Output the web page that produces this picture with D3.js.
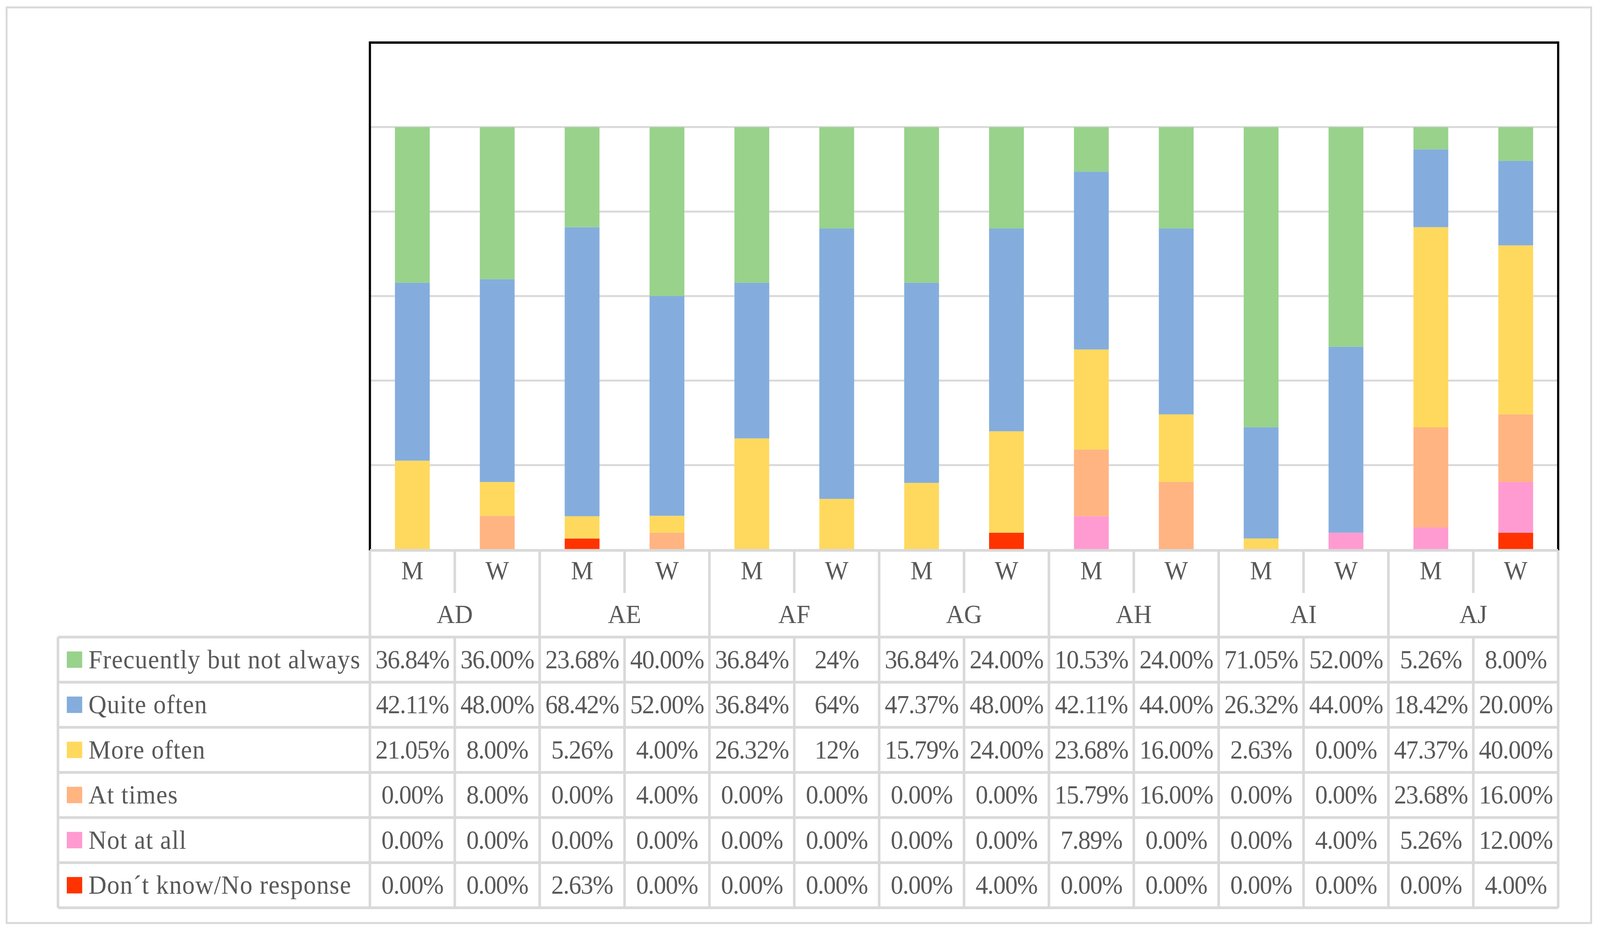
<!DOCTYPE html>
<html>
<head>
<meta charset="utf-8">
<script src="https://cdn.jsdelivr.net/npm/d3@7/dist/d3.min.js"></script>
<style>
  html, body { margin: 0; padding: 0; background: #ffffff; width: 100%; height: 100%; overflow: hidden; }
  svg { display: block; width: 100vw; height: 100vh; }
</style>
</head>
<body>
<svg id="chart" viewBox="0 0 4360 2386" preserveAspectRatio="none"></svg>
<script>
// ---------------- DATA ----------------
const groups = ["AD", "AE", "AF", "AG", "AH", "AI", "AJ"];
const genders = ["M", "W"];
const seriesNames = [
  "Frecuently but not always",
  "Quite often",
  "More often",
  "At times",
  "Not at all",
  "Don\u00b4t know/No response"
];
// table labels, one per column (AD-M, AD-W, AE-M, AE-W, ...)
const frequentlyLabels = ["36.84%","36.00%","23.68%","40.00%","36.84%","24%","36.84%","24.00%","10.53%","24.00%","71.05%","52.00%","5.26%","8.00%"];
const quiteOftenLabels = ["42.11%","48.00%","68.42%","52.00%","36.84%","64%","47.37%","48.00%","42.11%","44.00%","26.32%","44.00%","18.42%","20.00%"];
const moreOftenLabels  = ["21.05%","8.00%","5.26%","4.00%","26.32%","12%","15.79%","24.00%","23.68%","16.00%","2.63%","0.00%","47.37%","40.00%"];
const atTimesLabels    = ["0.00%","8.00%","0.00%","4.00%","0.00%","0.00%","0.00%","0.00%","15.79%","16.00%","0.00%","0.00%","23.68%","16.00%"];
const notAtAllLabels   = ["0.00%","0.00%","0.00%","0.00%","0.00%","0.00%","0.00%","0.00%","7.89%","0.00%","0.00%","4.00%","5.26%","12.00%"];
const dontKnowLabels   = ["0.00%","0.00%","2.63%","0.00%","0.00%","0.00%","0.00%","4.00%","0.00%","0.00%","0.00%","0.00%","0.00%","4.00%"];
const seriesColors = ["#98d28b", "#84addd", "#ffd95e", "#ffb482", "#ff9bd0", "#ff3300"];
const yTicks = [0.2, 0.4, 0.6, 0.8, 1.0];

// ---------------- BUILD ----------------
const labelRows = [frequentlyLabels, quiteOftenLabels, moreOftenLabels, atTimesLabels, notAtAllLabels, dontKnowLabels];
const columns = [];
groups.forEach(g => genders.forEach(s => columns.push({ key: g + "-" + s, group: g, gender: s })));
const rows = columns.map((c, i) => {
  const o = { key: c.key };
  seriesNames.forEach((n, si) => { o[n] = parseFloat(labelRows[si][i]) / 100; });
  return o;
});
const stackKeys = seriesNames.slice().reverse(); // bottom: Don't know ... top: Frequently
const colorOf = d3.scaleOrdinal().domain(seriesNames).range(seriesColors);
const stacked = d3.stack().keys(stackKeys)(rows);

const svg = d3.select("#chart");
const plotL = 1008, plotR = 4246, plotT = 109, plotB = 1407;
const tableL = 158;
const headBottom = 1631, rowH = 115.5;
const textColor = "#595959";
const gridColor = "#d9d9d9";
const font = "'Liberation Serif', 'Times New Roman', serif";
const fs = 68;

// outer frame
svg.append("rect").attr("x", 18).attr("y", 19).attr("width", 4336 - 18).attr("height", 2363 - 19)
  .attr("fill", "#fff").attr("stroke", gridColor).attr("stroke-width", 5);

const x = d3.scaleBand().domain(columns.map(c => c.key)).range([plotL, plotR])
  .paddingInner(0.59).paddingOuter(0.295);
const col = d3.scaleBand().domain(columns.map(c => c.key)).range([plotL, plotR]);
const grp = d3.scaleBand().domain(groups).range([plotL, plotR]);
const y = d3.scaleLinear().domain([0, 1.2]).range([plotB, plotT]);

// gridlines
svg.append("g").selectAll("line").data(yTicks).join("line")
  .attr("x1", plotL).attr("x2", plotR)
  .attr("y1", d => y(d)).attr("y2", d => y(d))
  .attr("stroke", gridColor).attr("stroke-width", 5);

// bars
svg.append("g").selectAll("g").data(stacked).join("g")
  .attr("fill", d => colorOf(d.key))
  .selectAll("rect").data(d => d).join("rect")
  .attr("x", d => x(d.data.key))
  .attr("width", x.bandwidth())
  .attr("y", d => y(d[1]))
  .attr("height", d => Math.max(0, y(d[0]) - y(d[1])));

// plot border (left, top, right)
svg.append("path")
  .attr("d", `M${plotL},${plotB + 2} L${plotL},${plotT} L${plotR},${plotT} L${plotR},${plotB + 2}`)
  .attr("fill", "none").attr("stroke", "#000").attr("stroke-width", 6);

// ---------------- TABLE ----------------
const tg = svg.append("g").attr("stroke", gridColor).attr("stroke-width", 7);
const tableB = headBottom + rowH * seriesNames.length;
tg.append("line").attr("x1", plotL).attr("x2", plotR).attr("y1", plotB + 2).attr("y2", plotB + 2);
d3.range(seriesNames.length + 1).forEach(i => {
  tg.append("line").attr("x1", tableL).attr("x2", plotR)
    .attr("y1", headBottom + i * rowH).attr("y2", headBottom + i * rowH);
});
tg.append("line").attr("x1", tableL).attr("x2", tableL).attr("y1", headBottom).attr("y2", tableB);
columns.forEach((c, i) => {
  const xx = col(c.key);
  if (i % 2 === 0) {
    tg.append("line").attr("x1", xx).attr("x2", xx).attr("y1", plotB + 2).attr("y2", tableB);
  } else {
    tg.append("line").attr("x1", xx).attr("x2", xx).attr("y1", plotB + 2).attr("y2", 1518);
    tg.append("line").attr("x1", xx).attr("x2", xx).attr("y1", headBottom).attr("y2", tableB);
  }
});
tg.append("line").attr("x1", plotR).attr("x2", plotR).attr("y1", plotB + 2).attr("y2", tableB);

const txt = svg.append("g").attr("font-family", font).attr("font-size", fs).attr("fill", textColor);
txt.selectAll("text.g").data(columns).join("text").attr("class", "g")
  .attr("x", d => col(d.key) + col.bandwidth() / 2).attr("y", 1483)
  .attr("text-anchor", "middle").text(d => d.gender);
txt.selectAll("text.grp").data(groups).join("text").attr("class", "grp")
  .attr("x", d => grp(d) + grp.bandwidth() / 2).attr("y", 1595)
  .attr("text-anchor", "middle").text(d => d);
seriesNames.forEach((n, si) => {
  const top = headBottom + si * rowH;
  svg.append("rect").attr("x", 182).attr("y", top + rowH / 2 - 21).attr("width", 42).attr("height", 42)
    .attr("fill", colorOf(n));
  txt.append("text").attr("x", 241).attr("y", top + rowH / 2 + 22)
    .attr("letter-spacing", 1.5).text(n);
  txt.append("g").selectAll("text").data(labelRows[si]).join("text")
    .attr("x", (d, i) => col(columns[i].key) + col.bandwidth() / 2)
    .attr("y", top + rowH / 2 + 22)
    .attr("letter-spacing", -1.5)
    .attr("text-anchor", "middle").text(d => d);
});
</script>
</body>
</html>
